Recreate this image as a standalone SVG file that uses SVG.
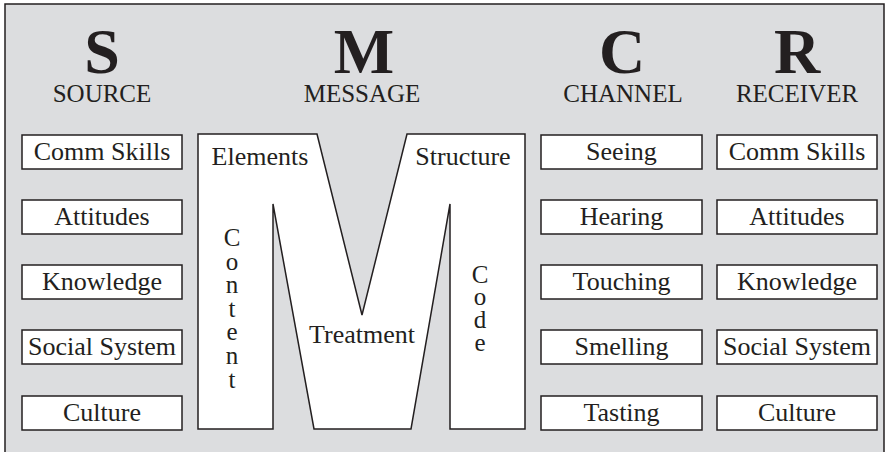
<svg xmlns="http://www.w3.org/2000/svg" width="888" height="452" viewBox="0 0 888 452">
<style>
.t{font-family:"Liberation Serif","Times New Roman",serif;font-size:26px;fill:#231f20;text-anchor:middle}
.h{font-family:"Liberation Serif","Times New Roman",serif;font-size:25px;fill:#231f20;text-anchor:middle}
.big{font-size:64px;font-weight:bold}
.v{font-family:"Liberation Serif","Times New Roman",serif;font-size:25px;fill:#231f20;writing-mode:vertical-rl;text-orientation:upright;text-anchor:start}
.box{fill:#fff;stroke:#231f20;stroke-width:1.5}
</style>
<rect x="0" y="0" width="888" height="452" fill="#fff"/>
<path d="M5,452 V4 H884 V452" fill="#dcdddf" stroke="#231f20" stroke-width="1.5"/>
<g id="header">
<text class="h"><tspan class="big" x="102" y="73">S</tspan><tspan x="102" y="102">SOURCE</tspan></text>
<text class="h"><tspan class="big" x="364" y="73">M</tspan><tspan x="362" y="102">MESSAGE</tspan></text>
<text class="h"><tspan class="big" x="622" y="73">C</tspan><tspan x="623" y="102">CHANNEL</tspan></text>
<text class="h"><tspan class="big" x="797" y="73">R</tspan><tspan x="797" y="102">RECEIVER</tspan></text>
</g>
<g id="source">
<rect class="box" x="22" y="135" width="160" height="34"/><text class="t" x="102" y="160">Comm Skills</text>
<rect class="box" x="22" y="200" width="160" height="34"/><text class="t" x="102" y="225">Attitudes</text>
<rect class="box" x="22" y="265" width="160" height="34"/><text class="t" x="102" y="290">Knowledge</text>
<rect class="box" x="22" y="330" width="160" height="34"/><text class="t" x="102" y="355">Social System</text>
<rect class="box" x="22" y="396" width="160" height="34"/><text class="t" x="102" y="421">Culture</text>
</g>
<g id="message">
<path class="box" d="M198,134 L317,134 L362,315 L407,134 L525,134 L525,429 L450,429 L450,204 L411,429 L314,429 L273,204 L273,429 L198,429 Z"/>
<text class="t" x="260" y="165">Elements</text>
<text class="t" x="463" y="165">Structure</text>
<text class="t" x="362" y="343">Treatment</text>
<text class="v" x="232" y="224" letter-spacing="-3.4">Content</text>
<text class="v" x="480" y="260.5" letter-spacing="-4.1">Code</text>
</g>
<g id="channel">
<rect class="box" x="541" y="135" width="161" height="34"/><text class="t" x="621.5" y="160">Seeing</text>
<rect class="box" x="541" y="200" width="161" height="34"/><text class="t" x="621.5" y="225">Hearing</text>
<rect class="box" x="541" y="265" width="161" height="34"/><text class="t" x="621.5" y="290">Touching</text>
<rect class="box" x="541" y="330" width="161" height="34"/><text class="t" x="621.5" y="355">Smelling</text>
<rect class="box" x="541" y="396" width="161" height="34"/><text class="t" x="621.5" y="421">Tasting</text>
</g>
<g id="receiver">
<rect class="box" x="717" y="135" width="160" height="34"/><text class="t" x="797" y="160">Comm Skills</text>
<rect class="box" x="717" y="200" width="160" height="34"/><text class="t" x="797" y="225">Attitudes</text>
<rect class="box" x="717" y="265" width="160" height="34"/><text class="t" x="797" y="290">Knowledge</text>
<rect class="box" x="717" y="330" width="160" height="34"/><text class="t" x="797" y="355">Social System</text>
<rect class="box" x="717" y="396" width="160" height="34"/><text class="t" x="797" y="421">Culture</text>
</g>
<g id="connectors"></g>
</svg>
